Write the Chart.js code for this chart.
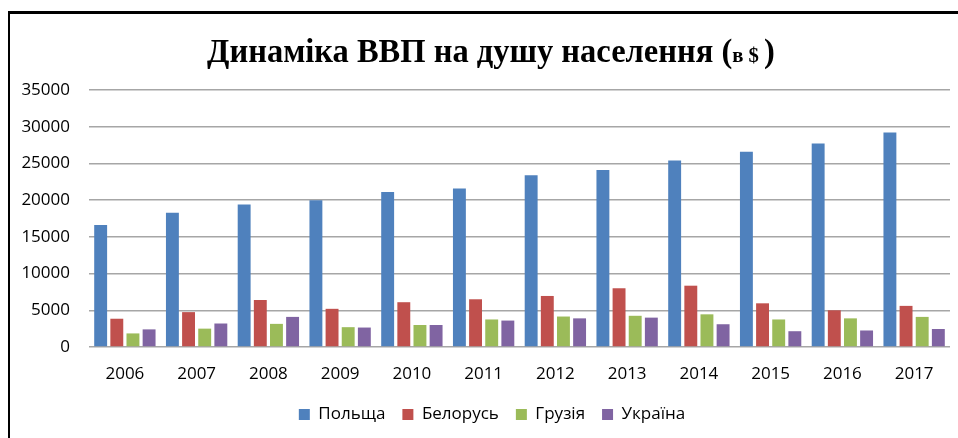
<!DOCTYPE html>
<html>
<head>
<meta charset="utf-8">
<script src="https://cdn.jsdelivr.net/npm/chart.js@4.4.1/dist/chart.umd.min.js"></script>
<style>
  html, body { margin: 0; padding: 0; background: #fff; }
  #wrap { position: relative; width: 958px; height: 438px; overflow: hidden; }
  #frame { position: absolute; left: 8px; top: 11px; right: -10px; bottom: -10px;
           border-left: 2px solid #000; border-top: 3px solid #000; }
  #title { position: absolute; left: 24px; width: 934px; top: 31px; text-align: center;
           font-family: "Liberation Serif", "Times New Roman", serif; font-weight: bold;
           font-size: 33px; line-height: 40px; color: #000; white-space: nowrap;
           transform: scaleX(0.985); transform-origin: center; }
  #title span { font-size: 21px; }
  canvas { position: absolute; left: 0; top: 0; }
</style>
</head>
<body>
<div id="wrap">
  <div id="frame"></div>
  <canvas id="gdpChart" width="958" height="438"></canvas>
  <div id="title">Динаміка ВВП на душу населення (<span>в $ </span>)</div>
</div>
<script>
const years = ['2006', '2007', '2008', '2009', '2010', '2011', '2012', '2013', '2014', '2015', '2016', '2017'];
const poland = [16600, 18300, 19400, 20000, 21100, 21600, 23400, 24100, 25400, 26600, 27700, 29200];
const belarus = [3850, 4750, 6400, 5200, 6100, 6500, 6950, 8000, 8350, 5950, 5000, 5600];
const georgia = [1850, 2500, 3150, 2700, 3000, 3750, 4150, 4250, 4450, 3750, 3900, 4100];
const ukraine = [2400, 3200, 4100, 2650, 3000, 3600, 3900, 4000, 3100, 2150, 2250, 2450];
const seriesNames = ['Польща', 'Белорусь', 'Грузія', 'Україна'];
const colors = ['#4F81BD', '#C0504D', '#9BBB59', '#8064A2'];

const font = { family: 'Open Sans', size: 17 };

// legend in the original sits a bit right of the canvas centre
const legendShift = {
  id: 'legendShift',
  afterLayout(chart) {
    chart.legend.left += 17;
    chart.legend.right += 17;
  },
};

const ctx = document.getElementById('gdpChart');
new Chart(ctx, {
  type: 'bar',
  data: {
    labels: years,
    datasets: [poland, belarus, georgia, ukraine].map((d, i) => ({
      label: seriesNames[i],
      data: d,
      backgroundColor: colors[i],
      categoryPercentage: 0.9,
      barPercentage: 0.8,
    })),
  },
  options: {
    responsive: false,
    animation: false,
    layout: { padding: { left: 0, right: 8, top: 90, bottom: 5 } },
    plugins: {
      tooltip: { enabled: false },
      legend: {
        position: 'bottom',
        labels: {
          font: font,
          color: '#000',
          boxWidth: 11,
          boxHeight: 11,
          padding: 17,
        },
      },
    },
    scales: {
      x: {
        grid: { display: false, drawTicks: false },
        border: { display: false },
        ticks: { font: font, color: '#000', padding: 17, maxRotation: 0 },
        afterFit: (s) => { s.height = 438 - 5 - 347 - s.chart.legend.height; },
      },
      y: {
        min: 0,
        max: 35000,
        ticks: {
          stepSize: 5000, font: font, color: '#000', padding: 19,
          callback: (v) => String(v),
        },
        grid: { color: '#a6a6a6', lineWidth: 1.5, drawTicks: false },
        border: { display: false },
        afterFit: (s) => { s.width = 89; },
      },
    },
  },
  plugins: [legendShift],
});
</script>
</body>
</html>
